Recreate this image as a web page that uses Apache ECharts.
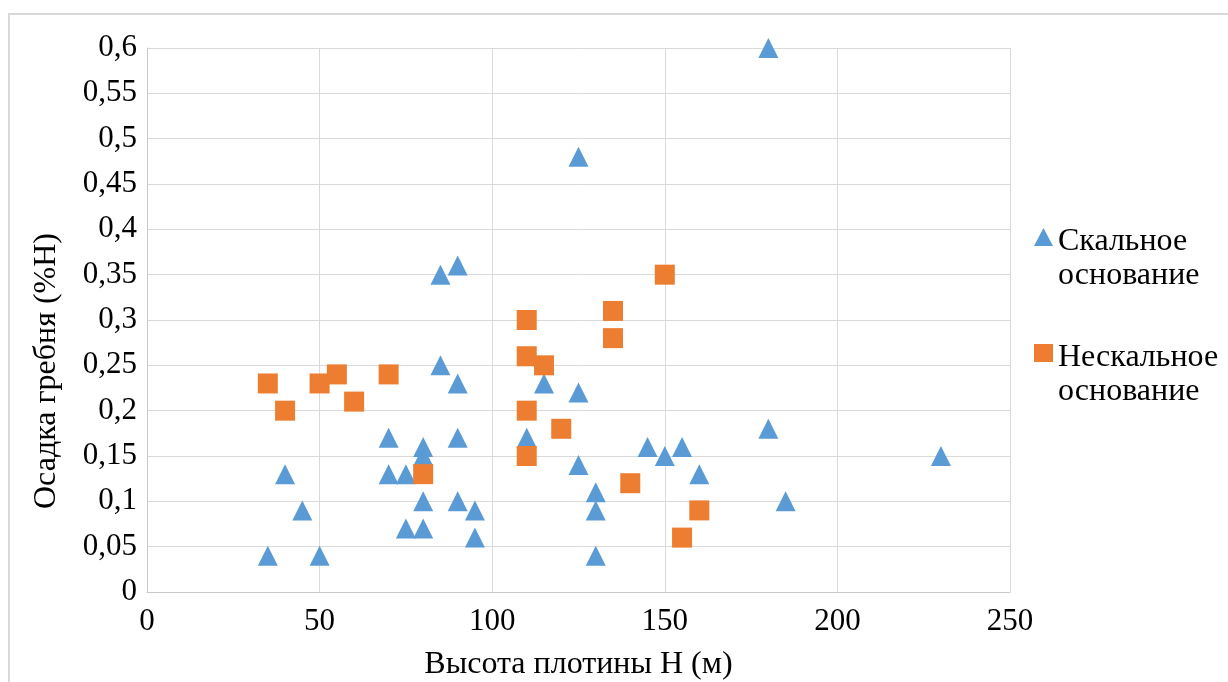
<!DOCTYPE html>
<html>
<head>
<meta charset="utf-8">
<script src="https://cdn.jsdelivr.net/npm/echarts@6/dist/echarts.min.js"></script>
<style>
  html, body { margin: 0; padding: 0; background: #fff; overflow: hidden; }
  #frame { position: absolute; left: 8px; top: 13px; width: 1400px; height: 900px; border: 2px solid #d9d9d9; }
  #main { position: absolute; left: 0; top: 0; width: 1228px; height: 682px; }
</style>
</head>
<body>
<div id="frame"></div>
<div id="main"></div>
<script>
// Скальное основание: высота H (м) и осадка (%H)
var rockH = [35, 40, 45, 50, 70, 70, 75, 75, 80, 80, 80, 80, 85, 85, 90, 90, 90, 90, 95, 95,
             110, 115, 125, 125, 125, 130, 130, 130, 145, 150, 155, 160, 180, 180, 185, 230];
var rockS = [0.04, 0.13, 0.09, 0.04, 0.17, 0.13, 0.13, 0.07, 0.16, 0.15, 0.10, 0.07, 0.35, 0.25, 0.36, 0.23, 0.17, 0.10, 0.09, 0.06,
             0.17, 0.23, 0.48, 0.22, 0.14, 0.11, 0.09, 0.04, 0.16, 0.15, 0.16, 0.13, 0.60, 0.18, 0.10, 0.15];

// Нескальное основание
var softH = [35, 40, 50, 55, 60, 70, 80, 110, 110, 110, 110, 115, 120, 135, 135, 140, 150, 155, 160];
var softS = [0.23, 0.20, 0.23, 0.24, 0.21, 0.24, 0.13, 0.30, 0.26, 0.20, 0.15, 0.25, 0.18, 0.31, 0.28, 0.12, 0.35, 0.06, 0.09];

var seriesNames = ['Скальное\nоснование', 'Нескальное\nоснование'];
var xTitle = 'Высота плотины H (м)';
var yTitle = 'Осадка гребня (%H)';

function zip(xs, ys) {
    return xs.map(function (x, i) { return [x, ys[i]]; });
}

var font = 'Liberation Serif';
var myChart = echarts.init(document.getElementById('main'));

myChart.setOption({
    animation: false,
    textStyle: { fontFamily: font, color: '#000' },
    grid: { left: 147, right: 218, top: 48, bottom: 90, outerBoundsMode: 'none', containLabel: false },
    legend: {
        orient: 'vertical',
        left: 1029,
        top: 182,
        itemWidth: 19,
        itemHeight: 18,
        itemGap: 11,
        // пустая строка сверху, чтобы значок стоял напротив первой строки
        formatter: function (name) {
            return '{e| }\n' + name.split('\n').map(function (s) { return '{t|' + s + '}'; }).join('\n');
        },
        textStyle: {
            fontFamily: font, fontSize: 32, color: '#000',
            rich: {
                e: { fontFamily: font, fontSize: 32, lineHeight: 44 },
                t: { fontFamily: font, fontSize: 32, lineHeight: 34, color: '#000' }
            }
        },
        data: [
            { name: seriesNames[0], icon: 'triangle' },
            { name: seriesNames[1], icon: 'rect' }
        ]
    },
    xAxis: {
        type: 'value',
        min: 0,
        max: 250,
        interval: 50,
        name: xTitle,
        nameLocation: 'middle',
        nameGap: 57,
        nameTextStyle: { fontFamily: font, fontSize: 32, color: '#000' },
        axisLine: { lineStyle: { color: '#c8c8c8', width: 1 } },
        axisTick: { show: false },
        axisLabel: { fontFamily: font, fontSize: 31, color: '#000', margin: 14 },
        splitLine: { lineStyle: { color: '#d9d9d9', width: 1 } }
    },
    yAxis: {
        type: 'value',
        min: 0,
        max: 0.6,
        interval: 0.05,
        axisLine: { show: true, lineStyle: { color: '#c8c8c8', width: 1 } },
        axisTick: { show: false },
        axisLabel: {
            fontFamily: font, fontSize: 31, color: '#000', margin: 10,
            formatter: function (v) { return String(+v.toFixed(2)).replace('.', ','); }
        },
        splitLine: { lineStyle: { color: '#d9d9d9', width: 1 } }
    },
    graphic: [{
        type: 'text',
        x: 47,
        y: 371,
        rotation: Math.PI / 2,
        style: {
            text: yTitle,
            fontFamily: font,
            fontSize: 32,
            fill: '#000',
            align: 'center',
            verticalAlign: 'middle'
        }
    }],
    series: [
        {
            name: seriesNames[0],
            type: 'scatter',
            symbol: 'triangle',
            symbolSize: 20,
            itemStyle: { color: '#5b9bd5', opacity: 1 },
            data: zip(rockH, rockS)
        },
        {
            name: seriesNames[1],
            type: 'scatter',
            symbol: 'rect',
            symbolSize: 20,
            itemStyle: { color: '#ed7d31', opacity: 1 },
            data: zip(softH, softS)
        }
    ]
});
</script>
</body>
</html>
